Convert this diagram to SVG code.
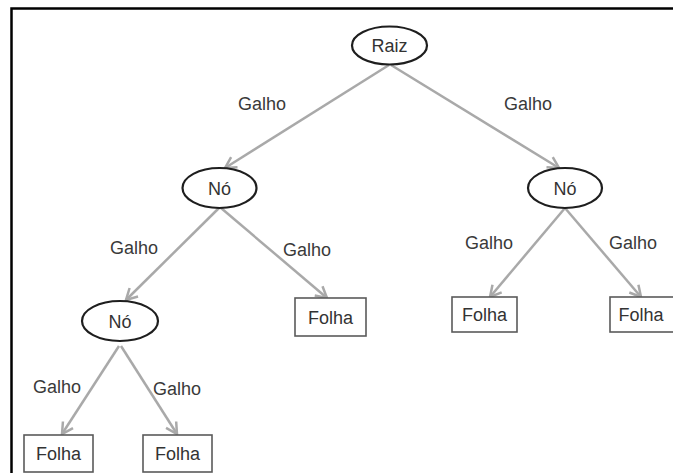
<svg xmlns="http://www.w3.org/2000/svg" width="673" height="473" viewBox="0 0 673 473">
<style>
.edge{stroke:#a9a9a9;stroke-width:2.5;fill:none;marker-end:url(#arr)}
.ell{fill:#fff;stroke:#1e1e1e;stroke-width:2.2}
.box{fill:#fff;stroke:#5a5a5a;stroke-width:1.6}
.t{font-family:"Liberation Sans",Arial,sans-serif;font-size:18px;fill:#333;text-anchor:middle}
.lbl{font-family:"Liberation Sans",Arial,sans-serif;font-size:18px;fill:#3a3a3a;text-anchor:middle}
</style>
<defs>
<marker id="arr" markerUnits="userSpaceOnUse" markerWidth="16" markerHeight="16" viewBox="0 0 16 16" refX="14" refY="8" orient="auto">
<path d="M3,2 L14,8 L3,14" fill="none" stroke="#a9a9a9" stroke-width="2.5"/>
</marker>
</defs>
<rect width="673" height="473" fill="#fff"/>
<path d="M11.5,473 V8.5 H673" fill="none" stroke="#000" stroke-width="2.5"/>
<g id="connectors">
<line class="edge" x1="389" y1="65" x2="225" y2="168"/>
<line class="edge" x1="391" y1="65" x2="559" y2="168"/>
<line class="edge" x1="219" y1="208" x2="126" y2="300"/>
<line class="edge" x1="221" y1="208" x2="327" y2="298"/>
<line class="edge" x1="565" y1="208" x2="490" y2="297"/>
<line class="edge" x1="565" y1="208" x2="641" y2="297"/>
<line class="edge" x1="119" y1="346" x2="62" y2="434"/>
<line class="edge" x1="121" y1="346" x2="177" y2="434"/>
<text class="lbl" x="262" y="110">Galho</text>
<text class="lbl" x="528" y="110">Galho</text>
<text class="lbl" x="134" y="254">Galho</text>
<text class="lbl" x="307" y="256">Galho</text>
<text class="lbl" x="489" y="249">Galho</text>
<text class="lbl" x="633" y="249">Galho</text>
<text class="lbl" x="57" y="393">Galho</text>
<text class="lbl" x="177" y="395">Galho</text>
</g>
<g id="raiz"><ellipse class="ell" cx="389.5" cy="45.5" rx="37.5" ry="19"/><text class="t" x="389.5" y="52">Raiz</text></g>
<g id="no-esq"><ellipse class="ell" cx="219.5" cy="188" rx="37" ry="20"/><text class="t" x="219.5" y="194.5">Nó</text></g>
<g id="no-dir"><ellipse class="ell" cx="565" cy="188" rx="37" ry="20"/><text class="t" x="565" y="194.5">Nó</text></g>
<g id="no-baixo"><ellipse class="ell" cx="120" cy="321" rx="38" ry="20"/><text class="t" x="120" y="327.5">Nó</text></g>
<g id="folha-1"><rect class="box" x="24" y="435" width="69" height="37"/><text class="t" x="58.5" y="460">Folha</text></g>
<g id="folha-2"><rect class="box" x="143" y="435" width="69" height="37"/><text class="t" x="177.5" y="460">Folha</text></g>
<g id="folha-3"><rect class="box" x="295" y="298" width="71" height="38"/><text class="t" x="330.5" y="323.5">Folha</text></g>
<g id="folha-4"><rect class="box" x="452" y="297" width="65" height="35"/><text class="t" x="484.5" y="321">Folha</text></g>
<g id="folha-5"><rect class="box" x="610" y="297" width="64" height="35"/><text class="t" x="641" y="321">Folha</text></g>
</svg>
